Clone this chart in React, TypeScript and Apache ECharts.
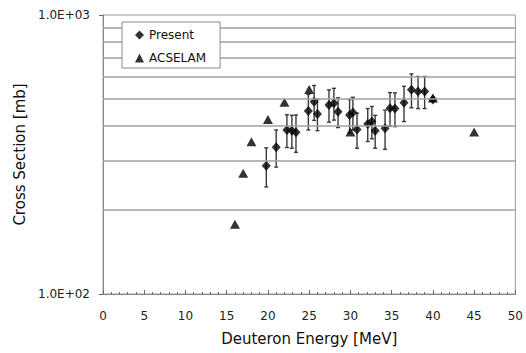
import React, { useEffect, useRef } from 'react';
import * as echarts from 'echarts';

const presentEnergy = [19.8, 21.0, 22.3, 22.9, 23.4, 24.9, 25.6, 26.0, 27.4, 28.0, 28.5, 29.9, 30.3, 30.8, 32.1, 32.6, 33.0, 34.2, 34.8, 35.4, 36.5, 37.4, 38.2, 39.0, 40.0];
const presentXs = [288, 336, 387, 385, 380, 453, 489, 442, 476, 483, 450, 438, 447, 389, 407, 415, 385, 393, 463, 462, 485, 540, 532, 532, 498];
const presentErr = [46, 51, 52, 52, 58, 66, 70, 57, 63, 63, 55, 60, 60, 56, 55, 55, 52, 63, 64, 64, 70, 75, 70, 70, 0];

const acselamEnergy = [16, 17, 18, 20, 22, 25, 30, 40, 45];
const acselamXs = [178, 271, 351, 422, 487, 541, 381, 504, 381];

const gridValues = [200, 300, 400, 500, 600, 700, 800, 900];

const FONT = 'DejaVu Sans';

export default function App() {
  const ref = useRef<HTMLDivElement>(null);
  useEffect(() => {
    const chart = echarts.init(ref.current!, null, { renderer: 'svg' });
    const presentData = presentEnergy.map((e, i) => [e, presentXs[i]]);
    const errData = presentEnergy.map((e, i) => [e, presentXs[i] - presentErr[i], presentXs[i] + presentErr[i]]);
    const acselamData = acselamEnergy.map((e, i) => [e, acselamXs[i]]);
    const barStyle = { stroke: '#3a3a3a', lineWidth: 1.4 };
    chart.setOption({
      animation: false,
      grid: { left: 103, right: 7, top: 15, bottom: 59, show: true, borderColor: '#9a9a9a', borderWidth: 1 },
      legend: {
        show: true,
        orient: 'vertical',
        left: 122,
        top: 22,
        z: 50,
        data: [
          { name: 'Present', icon: 'diamond' },
          { name: 'ACSELAM', icon: 'triangle' },
        ],
        itemWidth: 9,
        itemHeight: 9,
        itemGap: 9,
        padding: [6, 14, 3, 13],
        backgroundColor: '#fff',
        borderColor: '#888',
        borderWidth: 1,
        selectedMode: false,
        textStyle: { fontFamily: FONT, fontSize: 12, color: '#111', lineHeight: 14 },
        itemStyle: { color: '#000' },
      },
      xAxis: {
        type: 'value',
        min: 0,
        max: 50,
        interval: 5,
        name: 'Deuteron Energy [MeV]',
        nameLocation: 'middle',
        nameGap: 37,
        nameTextStyle: { fontFamily: FONT, fontSize: 15, color: '#111' },
        axisLine: { show: true, lineStyle: { color: '#8a8a8a' } },
        axisTick: { show: true, inside: true, length: 4, lineStyle: { color: '#666' } },
        minorTick: { show: true, splitNumber: 5, length: 2, lineStyle: { color: '#666' } },
        splitLine: { show: false },
        axisLabel: { margin: 16, fontFamily: FONT, fontSize: 12, color: '#222' },
      },
      yAxis: {
        type: 'log',
        logBase: 10,
        min: 100,
        max: 1000,
        name: 'Cross Section [mb]',
        nameLocation: 'middle',
        nameGap: 71,
        nameTextStyle: { fontFamily: FONT, fontSize: 15, color: '#111' },
        axisLine: { show: true, lineStyle: { color: '#8a8a8a' } },
        axisTick: { show: true, inside: false, length: 4, lineStyle: { color: '#666' } },
        splitLine: { show: false },
        axisLabel: {
          margin: 13,
          fontFamily: FONT,
          fontSize: 12,
          color: '#222',
          formatter: (v: number) => {
            const exp = Math.round(Math.log10(v));
            const mant = v / Math.pow(10, exp);
            return `${mant.toFixed(1)}E+${String(exp).padStart(2, '0')}`;
          },
        },
      },
      series: [
        {
          type: 'line',
          data: [],
          z: 1,
          silent: true,
          markLine: {
            silent: true,
            symbol: ['none', 'none'],
            label: { show: false },
            lineStyle: { color: '#a0a0a0', width: 1.5, type: 'solid' },
            data: gridValues.map((v) => ({ yAxis: v })),
          },
        },
        {
          type: 'custom',
          name: 'err',
          z: 2,
          encode: { x: 0, y: [1, 2] },
          data: errData,
          renderItem: (params: any, api: any) => {
            const x = api.value(0);
            const lo = api.value(1);
            const hi = api.value(2);
            if (hi - lo <= 0) return { type: 'group', children: [] };
            const p1 = api.coord([x, lo]);
            const p2 = api.coord([x, hi]);
            const w = 2;
            return {
              type: 'group',
              children: [
                { type: 'line', shape: { x1: p1[0], y1: p1[1], x2: p2[0], y2: p2[1] }, style: barStyle },
                { type: 'line', shape: { x1: p1[0] - w, y1: p1[1], x2: p1[0] + w, y2: p1[1] }, style: barStyle },
                { type: 'line', shape: { x1: p2[0] - w, y1: p2[1], x2: p2[0] + w, y2: p2[1] }, style: barStyle },
              ],
            };
          },
        },
        {
          type: 'scatter',
          name: 'Present',
          symbol: 'diamond',
          symbolSize: [9, 10],
          data: presentData,
          itemStyle: { color: '#000' },
          z: 3,
        },
        {
          type: 'scatter',
          name: 'ACSELAM',
          symbol: 'triangle',
          symbolSize: [10, 9],
          data: acselamData,
          itemStyle: { color: '#000' },
          z: 3,
        },
      ],
    });
    return () => chart.dispose();
  }, []);
  return <div ref={ref} style={{ position: 'fixed', left: 0, top: 0, width: 526, height: 353, background: '#fff' }} />;
}
